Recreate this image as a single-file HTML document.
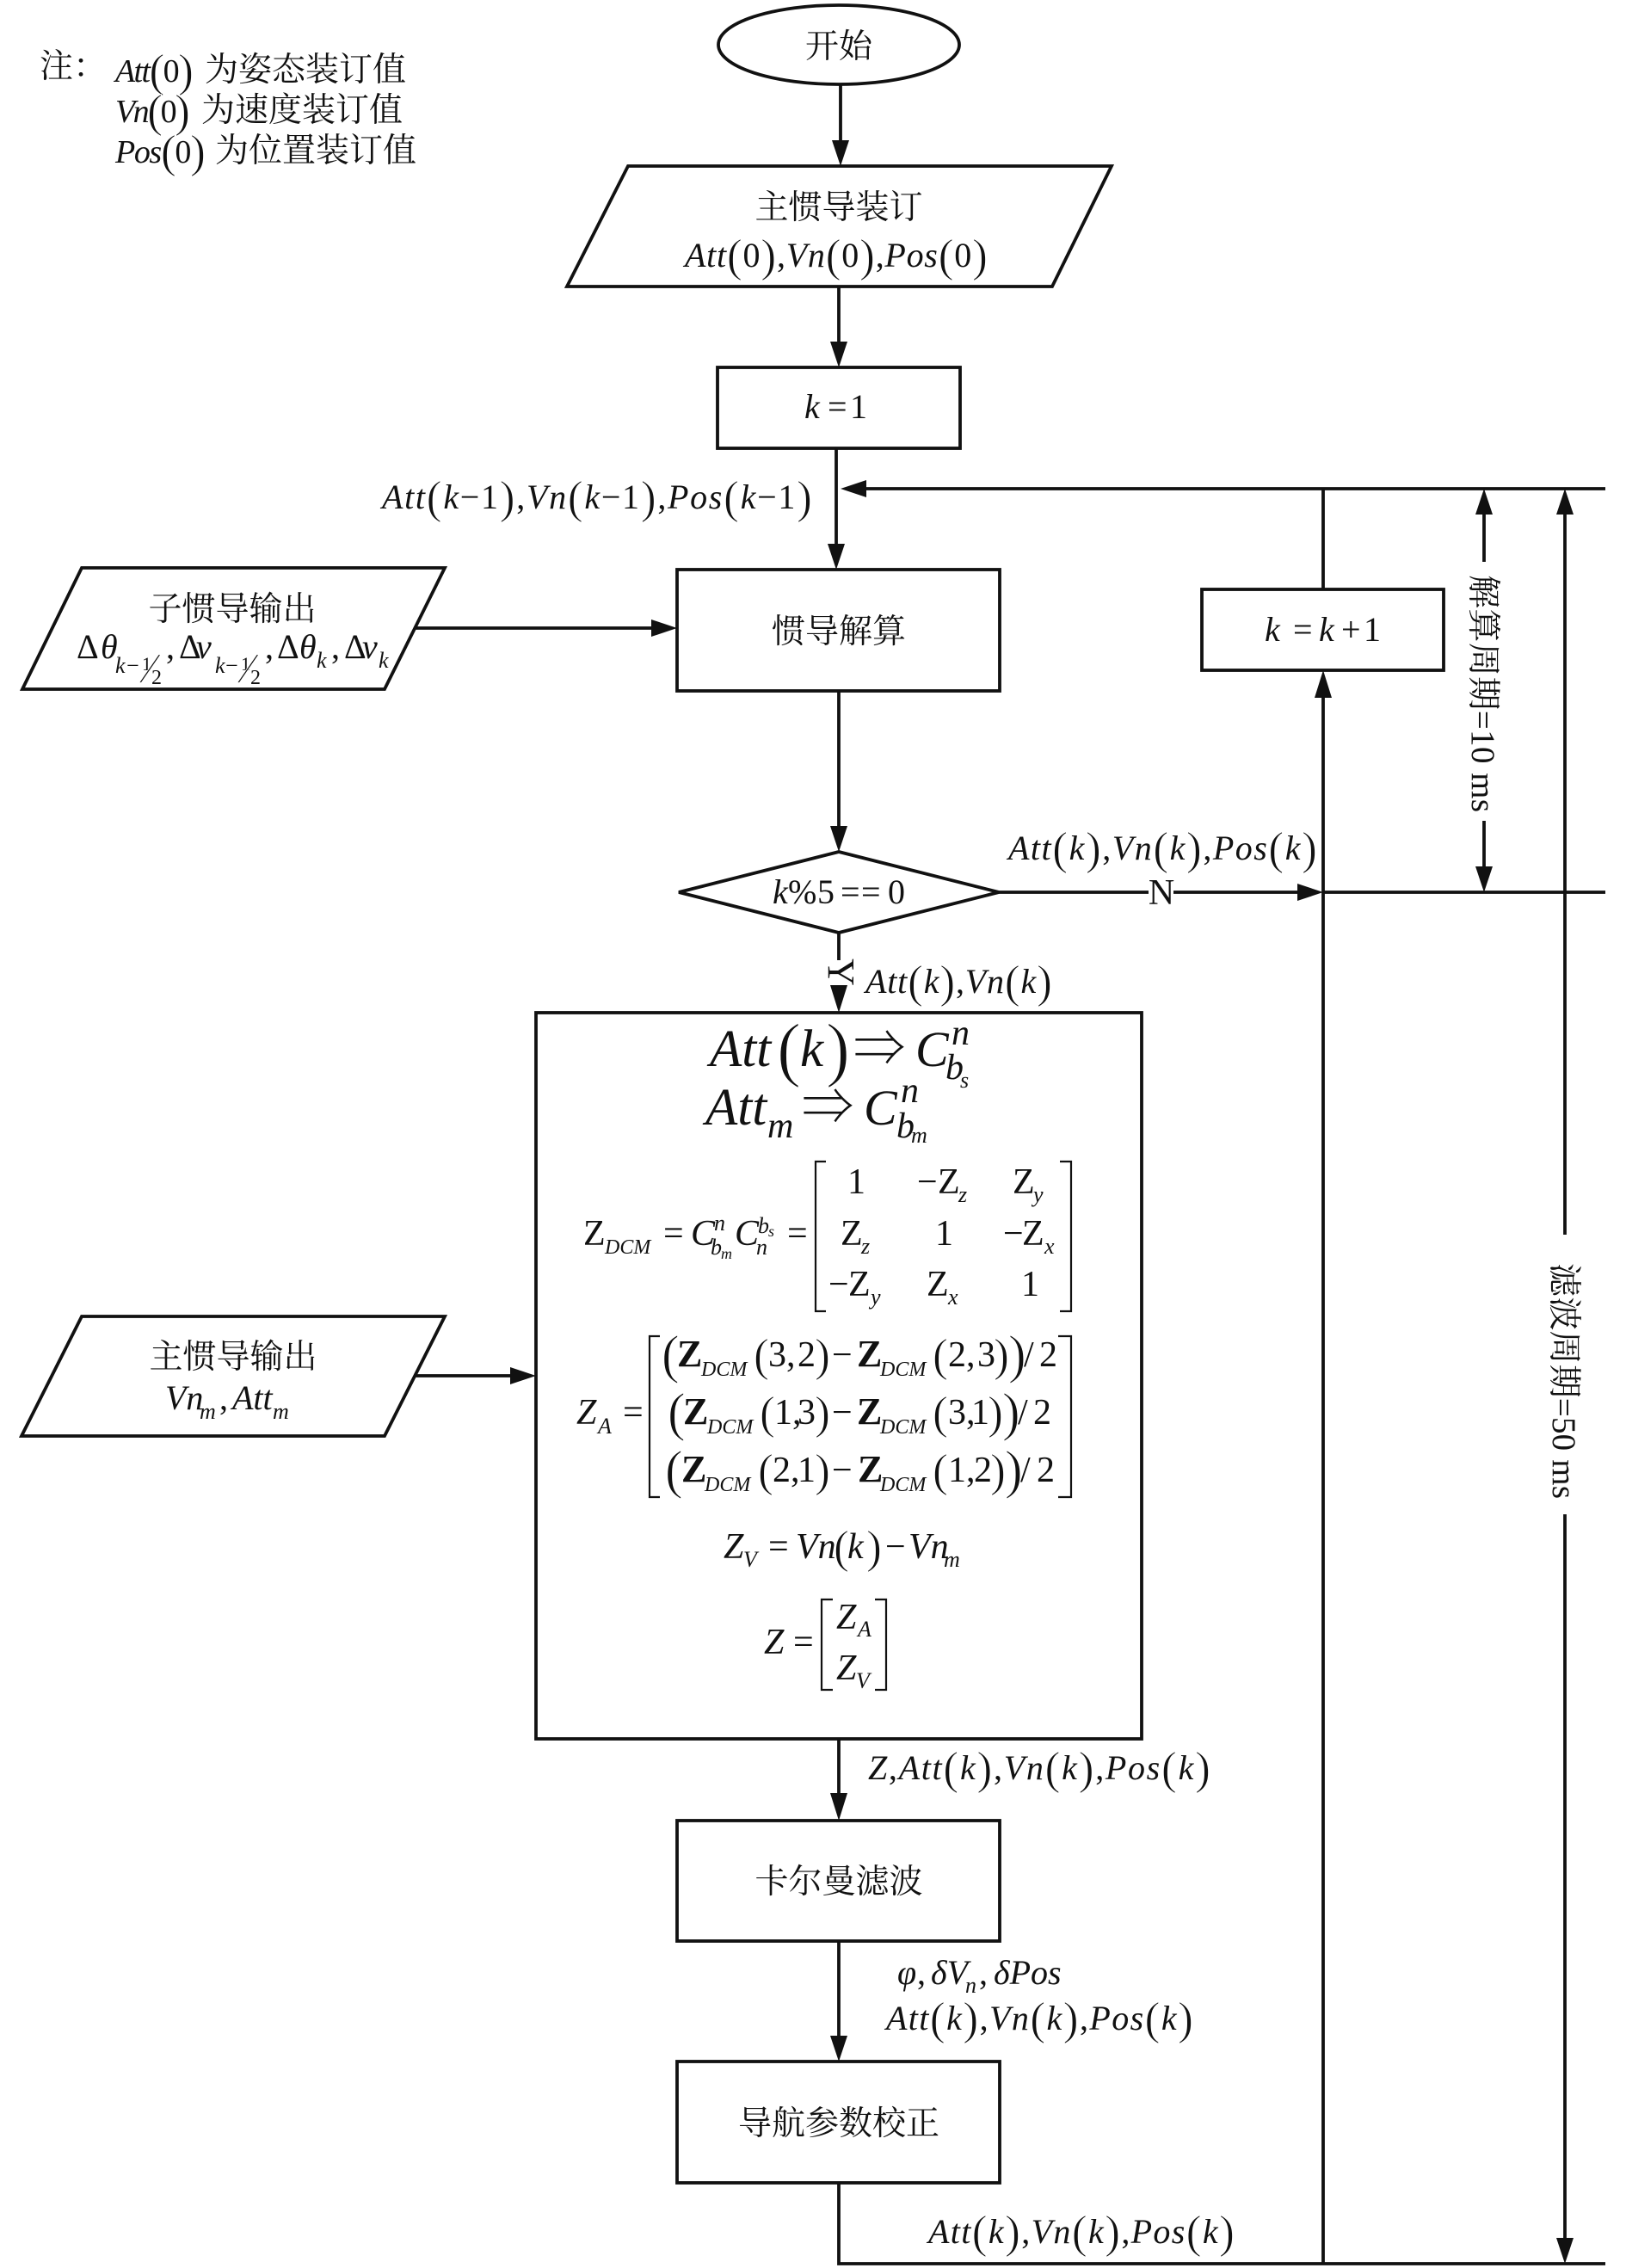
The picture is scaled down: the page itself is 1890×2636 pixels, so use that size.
<!DOCTYPE html>
<html><head><meta charset="utf-8"><style>
html,body{margin:0;padding:0;background:#fff}
svg{display:block}
text{font-family:"Liberation Serif","Noto Serif CJK SC",serif;font-size:40px;fill:#111;white-space:pre}
.c{font-size:39px}
.n{font-size:38px}
.i{font-style:italic}
.r{font-style:normal}
.b{font-weight:bold;font-size:44px}
.p{font-size:54px;baseline-shift:-5px;font-style:normal;stroke:#fff;stroke-width:.9}
.P{font-size:62px;baseline-shift:-7px;font-style:normal;stroke:#fff;stroke-width:1}
.G{font-size:84px;font-style:normal;baseline-shift:-8px;stroke:#fff;stroke-width:1.3}
.s{font-size:26px;font-style:italic}
.m{font-size:42px}
.d{font-size:24px;font-style:italic}
.sh{fill:none;stroke:#111;stroke-width:3.8;stroke-linejoin:miter}
.th{fill:none;stroke:#111;stroke-width:2.2}
</style></head><body>
<svg xmlns="http://www.w3.org/2000/svg" width="1890" height="2636" viewBox="0 0 1890 2636">
<rect width="1890" height="2636" fill="#fff"/>
<!-- connectors -->
<g class="sh">
<path d="M977 99V165"/><path d="M975 333V400"/><path d="M972 521V635"/>
<path d="M975 803V962"/><path d="M975 1084V1116"/>
<path d="M975 2021V2086"/><path d="M975 2256V2368"/><path d="M975 2537V2631H1866"/>
<path d="M1005 568H1866"/><path d="M1538 568V685"/><path d="M1538 808V2631"/>
<path d="M1161 1037H1335"/><path d="M1364 1037H1510"/><path d="M1538 1037H1866"/>
<path d="M482 730H760"/><path d="M483 1599H596"/>
<path d="M1725 596V653"/><path d="M1725 954V1010"/>
<path d="M1819 596V1435"/><path d="M1819 1760V2603"/>
</g>
<g fill="#111">
<path d="M977 193l-10-30h20z"/><path d="M975 427l-10-30h20z"/><path d="M972 662l-10-30h20z"/>
<path d="M975 990l-10-30h20z"/><path d="M975 1177l-10-32h20z"/><path d="M975 2116l-10-32h20z"/><path d="M975 2396l-10-30h20z"/>
<path d="M977 568l30-10v20z"/><path d="M787 730l-30-10v20z"/><path d="M623 1599l-30-10v20z"/>
<path d="M1538 1037l-30-10v20z"/><path d="M1538 779l-10 32h20z"/>
<path d="M1725 568l-10 30h20z"/><path d="M1725 1037l-10-30h20z"/>
<path d="M1819 568l-10 30h20z"/><path d="M1819 2631l-10-30h20z"/>
</g>
<!-- shapes -->
<g class="sh">
<ellipse cx="975" cy="52" rx="140" ry="46"/>
<path d="M730 193H1292L1223 333H659Z"/>
<rect x="834" y="427" width="282" height="94"/>
<path d="M95 660H517L447 801H26Z"/>
<rect x="787" y="662" width="375" height="141"/>
<rect x="1397" y="685" width="281" height="94"/>
<path d="M975 990L1161 1037L975 1084L789 1037Z"/>
<rect x="623" y="1177" width="704" height="844"/>
<path d="M95 1530H517L447 1669H25Z"/>
<rect x="787" y="2116" width="375" height="140"/>
<rect x="787" y="2396" width="375" height="141"/>
</g>
<!-- notes -->
<text class="c" x="46" y="90">注：</text>
<text class="i n" y="95" x="134" textLength="91">Att<tspan class="p">(</tspan><tspan class="r">0</tspan><tspan class="p">)</tspan></text>
<text class="c" x="238" y="94">为姿态装订值</text>
<text class="i n" y="142" x="134" textLength="87">Vn<tspan class="p">(</tspan><tspan class="r">0</tspan><tspan class="p">)</tspan></text>
<text class="c" x="234" y="141">为速度装订值</text>
<text class="i n" y="189" x="134" textLength="105">Pos<tspan class="p">(</tspan><tspan class="r">0</tspan><tspan class="p">)</tspan></text>
<text class="c" x="250" y="188">为位置装订值</text>
<!-- node labels -->
<text class="c" x="975" y="67" text-anchor="middle">开始</text>
<text class="c" x="975" y="254" text-anchor="middle">主惯导装订</text>
<text class="i" x="796" y="310" textLength="352">Att<tspan class="p">(</tspan><tspan class="r">0</tspan><tspan class="p">)</tspan><tspan class="r">,</tspan>Vn<tspan class="p">(</tspan><tspan class="r">0</tspan><tspan class="p">)</tspan><tspan class="r">,</tspan>Pos<tspan class="p">(</tspan><tspan class="r">0</tspan><tspan class="p">)</tspan></text>
<text y="486"><tspan class="i" x="935">k</tspan><tspan x="962">=</tspan><tspan x="988">1</tspan></text>
<text class="i" x="444" y="591" textLength="500">Att<tspan class="p">(</tspan>k<tspan class="r">−1</tspan><tspan class="p">)</tspan><tspan class="r">,</tspan>Vn<tspan class="p">(</tspan>k<tspan class="r">−1</tspan><tspan class="p">)</tspan><tspan class="r">,</tspan>Pos<tspan class="p">(</tspan>k<tspan class="r">−1</tspan><tspan class="p">)</tspan></text>
<text class="c" x="270" y="721" text-anchor="middle">子惯导输出</text>
<text y="765"><tspan x="89">Δ</tspan><tspan class="i" x="117">θ</tspan><tspan x="193">,</tspan><tspan x="208">Δ</tspan><tspan class="i" x="228">v</tspan><tspan x="308">,</tspan><tspan x="322">Δ</tspan><tspan class="i" x="348">θ</tspan><tspan x="385">,</tspan><tspan x="400">Δ</tspan><tspan class="i" x="421">v</tspan></text>
<text class="s" y="782"><tspan x="134">k</tspan><tspan x="147" class="r">−</tspan><tspan x="250">k</tspan><tspan x="262" class="r">−</tspan></text>
<text class="s" style="font-size:22px" y="779"><tspan x="165" class="r">1</tspan><tspan x="280" class="r">1</tspan></text>
<text class="s" style="font-size:24px" y="795"><tspan x="176" class="r">2</tspan><tspan x="291" class="r">2</tspan></text>
<text class="s" y="776"><tspan x="368">k</tspan><tspan x="440">k</tspan></text>
<text transform="translate(162,793) skewX(-19)" style="font-size:49px;stroke:#fff;stroke-width:.8">/</text>
<text transform="translate(276,793) skewX(-19)" style="font-size:49px;stroke:#fff;stroke-width:.8">/</text>
<text class="c" x="975" y="747" text-anchor="middle">惯导解算</text>
<text y="745"><tspan class="i" x="1470">k</tspan><tspan x="1503">=</tspan><tspan class="i" x="1533">k</tspan><tspan x="1559">+</tspan><tspan x="1585">1</tspan></text>
<text transform="rotate(90 1711 668)" class="c" x="1711" y="668" textLength="276">解算周期=10 ms</text>
<text transform="rotate(90 1805 1468)" class="c" x="1805" y="1468" textLength="274">滤波周期=50 ms</text>
<text class="i" x="1172" y="999" textLength="359">Att<tspan class="p">(</tspan>k<tspan class="p">)</tspan><tspan class="r">,</tspan>Vn<tspan class="p">(</tspan>k<tspan class="p">)</tspan><tspan class="r">,</tspan>Pos<tspan class="p">(</tspan>k<tspan class="p">)</tspan></text>
<text x="1350" y="1051" text-anchor="middle" style="font-size:42px">N</text>
<text y="1050"><tspan class="i" x="898">k</tspan><tspan x="916">%</tspan><tspan x="950">5</tspan><tspan x="977">=</tspan><tspan x="1001">=</tspan><tspan x="1032">0</tspan></text>
<text transform="rotate(90 963 1130)" x="963" y="1130" text-anchor="middle" style="font-size:44px">Y</text>
<text class="i" x="1006" y="1154" textLength="217">Att<tspan class="p">(</tspan>k<tspan class="p">)</tspan><tspan class="r">,</tspan>Vn<tspan class="p">(</tspan>k<tspan class="p">)</tspan></text>
<!-- main box formulas -->
<text y="1239" style="font-size:61px" class="i"><tspan x="825">Att</tspan><tspan x="903" class="G">(</tspan><tspan x="930">k</tspan><tspan x="960" class="G">)</tspan><tspan x="992" class="r" style="font-size:60px">⇒</tspan><tspan x="1064" style="font-size:58px">C</tspan></text>
<text class="i" style="font-size:42px" x="1106" y="1214">n</text>
<text class="i" style="font-size:42px" x="1099" y="1254">b</text>
<text class="s" x="1116" y="1264">s</text>
<text y="1307" style="font-size:61px" class="i"><tspan x="820">Att</tspan><tspan x="932" class="r" style="font-size:60px">⇒</tspan><tspan x="1004" style="font-size:58px">C</tspan></text>
<text class="i" style="font-size:42px" x="892" y="1322">m</text>
<text class="i" style="font-size:42px" x="1047" y="1281">n</text>
<text class="i" style="font-size:42px" x="1042" y="1322">b</text>
<text class="s" x="1059" y="1328">m</text>

<text class="m" y="1447"><tspan x="678">Z</tspan><tspan x="771">=</tspan><tspan class="i" x="803">C</tspan><tspan class="i" x="854">C</tspan><tspan x="915">=</tspan></text>
<text class="d" y="1457" x="703">DCM</text>
<text class="s" y="1430"><tspan x="830">n</tspan></text>
<text class="s" y="1433"><tspan x="881">b</tspan></text>
<text class="s" style="font-size:18px" x="893" y="1437">s</text>
<text class="s" y="1458"><tspan x="826">b</tspan><tspan x="879">n</tspan></text>
<text class="s" style="font-size:18px" x="838" y="1463">m</text>
<path class="th" d="M960 1350H948V1524H960M1232 1350H1245V1524H1232"/>
<text class="m" y="1387"><tspan x="985">1</tspan><tspan x="1066">−</tspan><tspan x="1090">Z</tspan><tspan x="1177">Z</tspan></text>
<text class="s" y="1397"><tspan x="1114">z</tspan><tspan x="1201">y</tspan></text>
<text class="m" y="1447"><tspan x="977">Z</tspan><tspan x="1087">1</tspan><tspan x="1166">−</tspan><tspan x="1188">Z</tspan></text>
<text class="s" y="1457"><tspan x="1001">z</tspan><tspan x="1214">x</tspan></text>
<text class="m" y="1506"><tspan x="963">−</tspan><tspan x="986">Z</tspan><tspan x="1077">Z</tspan><tspan x="1187">1</tspan></text>
<text class="s" y="1516"><tspan x="1012">y</tspan><tspan x="1102">x</tspan></text>

<text class="m" y="1655"><tspan class="i" x="670">Z</tspan><tspan x="724">=</tspan></text>
<text class="s" x="695" y="1666">A</text>
<path class="th" d="M767 1553H755V1740H767M1230 1553H1245V1740H1230"/>
<text class="m" y="1588"><tspan class="P" x="769">(</tspan><tspan class="b" x="787">Z</tspan><tspan class="p" x="876">(</tspan><tspan x="893">3,</tspan><tspan x="927">2</tspan><tspan class="p" x="947">)</tspan><tspan x="967">−</tspan><tspan class="b" x="996">Z</tspan><tspan class="p" x="1084">(</tspan><tspan x="1102">2,</tspan><tspan x="1136">3</tspan><tspan class="p" x="1155">)</tspan><tspan class="P" x="1172">)</tspan><tspan x="1190">/</tspan><tspan x="1208">2</tspan></text>
<text class="d" y="1599"><tspan x="815">DCM</tspan><tspan x="1023">DCM</tspan></text>
<text class="m" y="1655"><tspan class="P" x="776">(</tspan><tspan class="b" x="794">Z</tspan><tspan class="p" x="883">(</tspan><tspan x="900">1,</tspan><tspan x="927">3</tspan><tspan class="p" x="947">)</tspan><tspan x="967">−</tspan><tspan class="b" x="996">Z</tspan><tspan class="p" x="1084">(</tspan><tspan x="1102">3,</tspan><tspan x="1129">1</tspan><tspan class="p" x="1148">)</tspan><tspan class="P" x="1165">)</tspan><tspan x="1183">/</tspan><tspan x="1201">2</tspan></text>
<text class="d" y="1666"><tspan x="822">DCM</tspan><tspan x="1023">DCM</tspan></text>
<text class="m" y="1722"><tspan class="P" x="773">(</tspan><tspan class="b" x="792">Z</tspan><tspan class="p" x="881">(</tspan><tspan x="898">2,</tspan><tspan x="927">1</tspan><tspan class="p" x="947">)</tspan><tspan x="967">−</tspan><tspan class="b" x="997">Z</tspan><tspan class="p" x="1084">(</tspan><tspan x="1102">1,</tspan><tspan x="1132">2</tspan><tspan class="p" x="1151">)</tspan><tspan class="P" x="1168">)</tspan><tspan x="1186">/</tspan><tspan x="1205">2</tspan></text>
<text class="d" y="1733"><tspan x="819">DCM</tspan><tspan x="1023">DCM</tspan></text>

<text class="m" y="1811"><tspan class="i" x="841">Z</tspan><tspan x="893">=</tspan><tspan class="i" x="925">Vn</tspan><tspan class="p" x="969">(</tspan><tspan class="i" x="985">k</tspan><tspan class="p" x="1007">)</tspan><tspan x="1029">−</tspan><tspan class="i" x="1056">Vn</tspan></text>
<text class="s" y="1821"><tspan x="864">V</tspan><tspan x="1097">m</tspan></text>
<text class="m" y="1922"><tspan class="i" x="888">Z</tspan><tspan x="922">=</tspan></text>
<path class="th" d="M968 1859H955V1964H968M1017 1859H1030V1964H1017"/>
<text class="m i" x="972" y="1893">Z</text>
<text class="s" x="997" y="1902">A</text>
<text class="m i" x="972" y="1952">Z</text>
<text class="s" x="995" y="1962">V</text>
<!-- left input 2 -->
<text class="c" x="271" y="1590" text-anchor="middle">主惯导输出</text>
<text class="i" y="1638"><tspan x="192">Vn</tspan><tspan x="255" class="r">,</tspan><tspan x="270">Att</tspan></text>
<text class="s" y="1649"><tspan x="232">m</tspan><tspan x="317">m</tspan></text>
<!-- lower labels -->
<text class="i" x="1009" y="2068" textLength="398">Z<tspan class="r">,</tspan>Att<tspan class="p">(</tspan>k<tspan class="p">)</tspan><tspan class="r">,</tspan>Vn<tspan class="p">(</tspan>k<tspan class="p">)</tspan><tspan class="r">,</tspan>Pos<tspan class="p">(</tspan>k<tspan class="p">)</tspan></text>
<text class="c" x="975" y="2200" text-anchor="middle">卡尔曼滤波</text>
<text class="i" y="2306"><tspan x="1043">φ</tspan><tspan x="1066" class="r">,</tspan><tspan x="1082">δV</tspan><tspan x="1138" class="r">,</tspan><tspan x="1155">δPos</tspan></text>
<text class="s" x="1122" y="2316">n</text>
<text class="i" x="1030" y="2359" textLength="357">Att<tspan class="p">(</tspan>k<tspan class="p">)</tspan><tspan class="r">,</tspan>Vn<tspan class="p">(</tspan>k<tspan class="p">)</tspan><tspan class="r">,</tspan>Pos<tspan class="p">(</tspan>k<tspan class="p">)</tspan></text>
<text class="c" x="975" y="2481" text-anchor="middle">导航参数校正</text>
<text class="i" x="1079" y="2607" textLength="356">Att<tspan class="p">(</tspan>k<tspan class="p">)</tspan><tspan class="r">,</tspan>Vn<tspan class="p">(</tspan>k<tspan class="p">)</tspan><tspan class="r">,</tspan>Pos<tspan class="p">(</tspan>k<tspan class="p">)</tspan></text>
</svg>
</body></html>
